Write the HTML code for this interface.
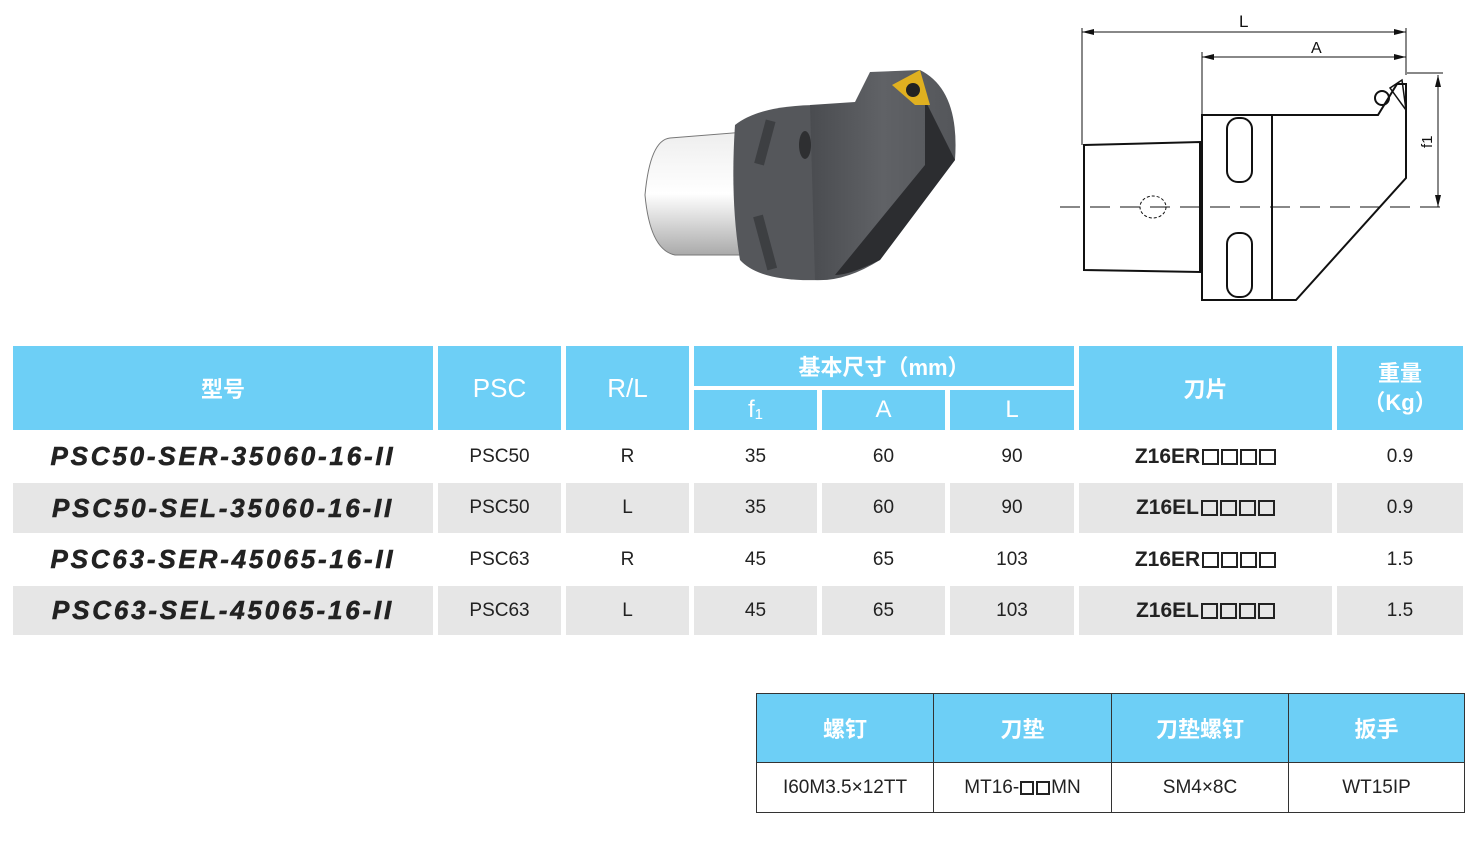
<!DOCTYPE html>
<html><head><meta charset="utf-8"><style>
body{margin:0;width:1481px;height:841px;background:#fff;position:relative;overflow:hidden;font-family:"Liberation Sans","Noto Sans CJK SC",sans-serif}
.c{position:absolute;display:flex;align-items:center;justify-content:center;box-sizing:border-box}
.h{background:#6dcff6;color:#fff;font-weight:bold}
.g{background:#e6e6e6}
.m{font-style:italic;font-weight:bold;font-size:26px;color:#222;letter-spacing:2.8px;-webkit-text-stroke:0.6px #222}
.d{font-size:19px;color:#222}
.k{font-weight:bold;font-size:21px;color:#222}
.b{display:inline-block;width:14px;height:14px;border:2px solid #222;margin-left:3px;box-sizing:border-box}
.bs{display:inline-block;width:17px;height:16px;border:2px solid #222;margin-left:2px;box-sizing:border-box}
</style></head><body>
<!-- photo -->
<svg style="position:absolute;left:630px;top:60px" width="340" height="230">
<defs><linearGradient id="cyl" x1="0" y1="0" x2="0" y2="1"><stop offset="0" stop-color="#eee"/><stop offset=".5" stop-color="#fff"/><stop offset="1" stop-color="#aaa"/></linearGradient>
<linearGradient id="bd" x1="0" y1="0" x2="1" y2="0"><stop offset="0" stop-color="#4a4c50"/><stop offset=".5" stop-color="#606266"/><stop offset="1" stop-color="#54565a"/></linearGradient></defs>
<path d="M40 78 Q20 80 15 135 Q20 190 45 195 L115 195 L115 72 Z" fill="url(#cyl)" stroke="#777"/>
<path d="M105 65 Q130 45 190 45 L190 220 Q130 222 110 200 Q100 140 105 65Z" fill="#55575b"/>
<path d="M180 45 L225 42 L240 12 L290 10 Q330 30 325 100 L250 200 Q215 222 185 220Z" fill="url(#bd)"/>
<path d="M295 40 L325 100 L250 200 Q220 215 205 215 L295 105Z" fill="#2c2d30"/>
<path d="M262 25 L290 10 L300 45 L285 45Z" fill="#e0b020"/>
<circle cx="283" cy="30" r="7" fill="#222"/>
<rect x="130" y="60" width="10" height="45" fill="#3d3f42" transform="rotate(15 135 82)"/>
<rect x="130" y="155" width="10" height="55" fill="#3d3f42" transform="rotate(-15 135 182)"/>
<ellipse cx="175" cy="85" rx="6" ry="14" fill="#2e2f31"/>
</svg>
<!-- drawing -->
<svg style="position:absolute;left:1060px;top:0" width="421" height="310" fill="none" stroke="#111" stroke-width="2">
<line x1="22" y1="28" x2="22" y2="145" stroke-width="1"/>
<line x1="22" y1="32" x2="346" y2="32" stroke-width="1"/>
<path d="M22 32 l12 -3 v6z M346 32 l-12 -3 v6z" fill="#111" stroke="none"/>
<line x1="346" y1="28" x2="346" y2="75" stroke-width="1"/>
<line x1="142" y1="52" x2="142" y2="115" stroke-width="1"/>
<line x1="142" y1="57" x2="346" y2="57" stroke-width="1"/>
<path d="M142 57 l12 -3 v6z M346 57 l-12 -3 v6z" fill="#111" stroke="none"/>
<line x1="347" y1="73" x2="383" y2="73" stroke-width="1"/>
<line x1="378" y1="75" x2="378" y2="207" stroke-width="1"/>
<path d="M378 75 l-3 12 h6z M378 207 l-3 -12 h6z" fill="#111" stroke="none"/>
<text x="179" y="27" fill="#111" stroke="none" font-size="17" font-family="Liberation Sans">L</text>
<text x="251" y="53" fill="#111" stroke="none" font-size="16" font-family="Liberation Sans">A</text>
<text x="372" y="148" fill="#111" stroke="none" font-size="15" font-family="Liberation Sans" transform="rotate(-90 372 148)">f1</text>
<path d="M24 145 L140 142 L140 272 L24 270 Z"/>
<rect x="142" y="115" width="70" height="185"/>
<path d="M212 115 L318 115 L337 84 L346 84 L346 178 L236 300 L212 300"/>
<rect x="167" y="118" width="25" height="64" rx="11"/>
<rect x="167" y="233" width="25" height="64" rx="11"/>
<circle cx="322" cy="98" r="7"/>
<path d="M330 88 L342 80 L346 110 Z" stroke-width="1.5"/>
<path d="M0 207 H380" stroke-width="1" stroke-dasharray="20 10"/>
<ellipse cx="93" cy="207" rx="13" ry="11" stroke-width="1" stroke-dasharray="3 2"/>
</svg>
<!-- main table -->
<div class="c h" style="left:13px;top:346px;width:420px;height:84px;font-size:22px">型号</div>
<div class="c h" style="left:438px;top:346px;width:123px;height:84px;font-size:26px;font-weight:normal">PSC</div>
<div class="c h" style="left:566px;top:346px;width:123px;height:84px;font-size:26px;font-weight:normal">R/L</div>
<div class="c h" style="left:694px;top:346px;width:380px;height:40px;font-size:22px">基本尺寸（mm）</div>
<div class="c h" style="left:694px;top:390px;width:123px;height:40px;font-size:24px;font-weight:normal">f<span style="font-size:15px;margin-top:8px">1</span></div>
<div class="c h" style="left:822px;top:390px;width:123px;height:40px;font-size:24px;font-weight:normal">A</div>
<div class="c h" style="left:950px;top:390px;width:124px;height:40px;font-size:24px;font-weight:normal">L</div>
<div class="c h" style="left:1079px;top:346px;width:253px;height:84px;font-size:22px">刀片</div>
<div class="c h" style="left:1337px;top:346px;width:126px;height:84px;font-size:22px;line-height:29px;text-align:center">重量<br>（Kg）</div>

<div id="rows"></div>
<script>
var B='<span class="bs"></span><span class="bs"></span><span class="bs"></span><span class="bs"></span>';
var R=[["PSC50-SER-35060-16-II","PSC50","R","35","60","90","Z16ER"+B,"0.9",432,49,0],
["PSC50-SEL-35060-16-II","PSC50","L","35","60","90","Z16EL"+B,"0.9",483,50,1],
["PSC63-SER-45065-16-II","PSC63","R","45","65","103","Z16ER"+B,"1.5",535,49,0],
["PSC63-SEL-45065-16-II","PSC63","L","45","65","103","Z16EL"+B,"1.5",586,49,1]];
var X=[[13,420],[438,123],[566,123],[694,123],[822,123],[950,124],[1079,253],[1337,126]];
var h="";R.forEach(function(r){X.forEach(function(x,i){var cls="c"+(r[10]?" g":"")+(i==0?" m":i==6?" k":" d");
h+='<div class="'+cls+'" style="left:'+x[0]+'px;top:'+r[8]+'px;width:'+x[1]+'px;height:'+r[9]+'px">'+r[i]+'</div>';});});
document.getElementById("rows").outerHTML=h;
</script>
<!-- bottom table -->
<div style="position:absolute;left:756px;top:693px;width:709px;height:120px;border:1px solid #333;box-sizing:border-box"></div>
<div class="c h" style="left:757px;top:694px;width:176px;height:68px;font-size:22px">螺钉</div>
<div class="c h" style="left:934px;top:694px;width:177px;height:68px;font-size:22px">刀垫</div>
<div class="c h" style="left:1112px;top:694px;width:176px;height:68px;font-size:22px">刀垫螺钉</div>
<div class="c h" style="left:1289px;top:694px;width:175px;height:68px;font-size:22px">扳手</div>
<div style="position:absolute;left:756px;top:762px;width:709px;height:1px;background:#333"></div>
<div style="position:absolute;left:933px;top:693px;width:1px;height:120px;background:#333"></div>
<div style="position:absolute;left:1111px;top:693px;width:1px;height:120px;background:#333"></div>
<div style="position:absolute;left:1288px;top:693px;width:1px;height:120px;background:#333"></div>
<div class="c d" style="left:757px;top:763px;width:176px;height:49px">I60M3.5×12TT</div>
<div class="c d" style="left:934px;top:763px;width:177px;height:49px">MT16-<span class="b" style="margin-left:1px"></span><span class="b" style="margin-left:2px;margin-right:1px"></span>MN</div>
<div class="c d" style="left:1112px;top:763px;width:176px;height:49px">SM4×8C</div>
<div class="c d" style="left:1289px;top:763px;width:175px;height:49px">WT15IP</div>
</body></html>
